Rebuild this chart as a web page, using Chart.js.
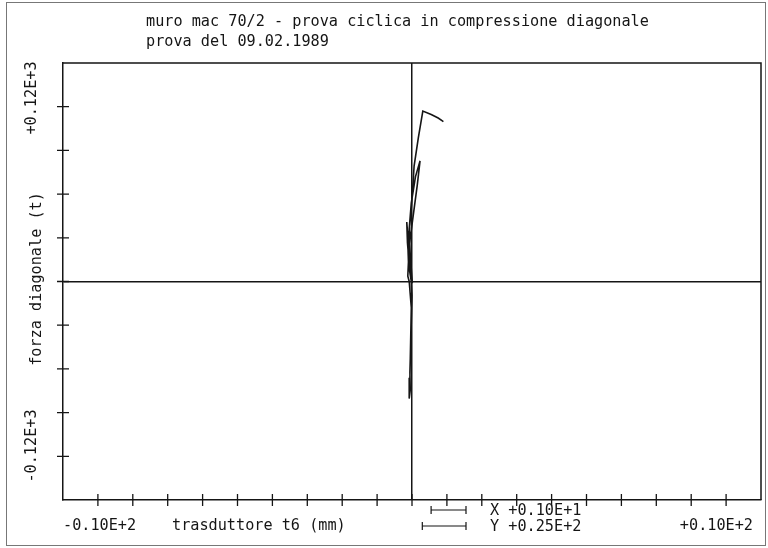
<!DOCTYPE html>
<html><head><meta charset="utf-8">
<script src="https://cdn.jsdelivr.net/npm/chart.js@4.4.1/dist/chart.umd.min.js"></script>
<style>html,body{margin:0;padding:0;background:#fff}#wrap{width:768px;height:548px;position:relative}</style>
</head><body><div id="wrap"><canvas id="c" width="768" height="548"></canvas></div>
<script>
// ---- data ----
const titleLines = ["muro mac 70/2 - prova ciclica in compressione diagonale", "prova del 09.02.1989"];
const xLabel = "trasduttore t6 (mm)";
const yLabel = "forza diagonale (t)";
const xMinLabel = "-0.10E+2";
const xMaxLabel = "+0.10E+2";
const yMaxLabel = "+0.12E+3";
const yMinLabel = "-0.12E+3";
const xScaleNote = "X +0.10E+1";
const yScaleNote = "Y +0.25E+2";
const xRange = [-10, 10];
const yRange = [-125, 125];
const xStep = 1;
const yStep = 25;
const xBarValue = 1;
const yBarValue = 25;
// displacement (mm) and diagonal force (t), in test order
const disp  = [0, -0.08, -0.13, -0.15, -0.12, -0.06, -0.02, 0.01,
               -0.05, -0.08, -0.02, 0.10, 0.23, 0.15, 0.05, -0.05, -0.10, -0.12, -0.08,
               -0.02, -0.04, -0.06, -0.08, -0.05, -0.06, -0.03, 0.00, -0.02,
               -0.10, -0.12, -0.06, 0.00, 0.06, 0.18, 0.31, 0.55, 0.75, 0.90];
const force = [0, 10, 22, 34, 26, 12, 2, -1,
               15, 30, 45, 60, 69, 55, 40, 25, 12, 3, 0,
               -15, -35, -55, -67, -62, -52, -30, -8, 0,
               10, 22, 33, 47, 66, 82, 97.5, 95.5, 93.5, 91.5];

const points = disp.map((x, i) => ({x: x, y: force[i]}));
const FONT = '15.2px "DejaVu Sans Mono"';
const INK = '#151515';

const decor = {
  id: 'decor',
  afterDraw(chart) {
    const ctx = chart.ctx;
    const a = chart.chartArea;
    const xs = chart.scales.x, ys = chart.scales.y;
    ctx.save();
    // outer page border
    ctx.strokeStyle = '#777'; ctx.lineWidth = 1;
    ctx.strokeRect(6.5, 2.5, 759, 543);
    // top and right frame
    ctx.strokeStyle = INK; ctx.lineWidth = 1.5;
    ctx.beginPath();
    ctx.moveTo(a.left, a.top); ctx.lineTo(a.right, a.top); ctx.lineTo(a.right, a.bottom);
    ctx.stroke();
    // crossing tick marks
    ctx.lineWidth = 1.3;
    ctx.beginPath();
    xs.ticks.forEach(t => {
      if (t.value <= xRange[0] || t.value >= xRange[1]) return;
      const p = xs.getPixelForValue(t.value);
      ctx.moveTo(p, a.bottom - 6); ctx.lineTo(p, a.bottom + 6);
    });
    ys.ticks.forEach(t => {
      if (t.value <= yRange[0] || t.value >= yRange[1]) return;
      const p = ys.getPixelForValue(t.value);
      ctx.moveTo(a.left - 6, p); ctx.lineTo(a.left + 6, p);
    });
    ctx.stroke();
    // scale bars
    const xLen = xs.getPixelForValue(xBarValue) - xs.getPixelForValue(0);
    const yLen = ys.getPixelForValue(0) - ys.getPixelForValue(yBarValue);
    const barRight = 466;
    const drawBar = (len, y) => {
      ctx.beginPath();
      ctx.moveTo(barRight - len, y); ctx.lineTo(barRight, y);
      ctx.moveTo(barRight - len, y - 4); ctx.lineTo(barRight - len, y + 4);
      ctx.moveTo(barRight, y - 4); ctx.lineTo(barRight, y + 4);
      ctx.stroke();
    };
    ctx.lineWidth = 1.2;
    drawBar(xLen, 510);
    drawBar(yLen, 526);
    // texts
    ctx.fillStyle = INK; ctx.font = FONT; ctx.textBaseline = 'middle'; ctx.textAlign = 'left';
    ctx.fillText(titleLines[0], 146, 22);
    ctx.fillText(titleLines[1], 146, 42);
    ctx.fillText(xMinLabel, 63, 526);
    ctx.fillText(xLabel, 172, 526);
    ctx.fillText(xScaleNote, 490, 511);
    ctx.fillText(yScaleNote, 490, 527);
    ctx.textAlign = 'right';
    ctx.fillText(xMaxLabel, 753, 526);
    const vtext = (s, x, y) => {
      ctx.save(); ctx.translate(x, y); ctx.rotate(-Math.PI / 2);
      ctx.textAlign = 'center'; ctx.fillText(s, 0, 0); ctx.restore();
    };
    vtext(yMaxLabel, 32, 98);
    vtext(yMinLabel, 32, 446);
    vtext(yLabel, 37, 279);
    ctx.restore();
  }
};

new Chart(document.getElementById('c'), {
  type: 'scatter',
  data: { datasets: [{
    data: points, showLine: true, borderColor: INK, borderWidth: 1.6,
    pointRadius: 0, pointHoverRadius: 0, tension: 0, fill: false
  }]},
  options: {
    responsive: false, animation: false, devicePixelRatio: 1,
    layout: { padding: { left: 63, right: 7, top: 63, bottom: 48 } },
    plugins: { legend: { display: false }, tooltip: { enabled: false }, title: { display: false } },
    scales: {
      x: { type: 'linear', min: xRange[0], max: xRange[1],
           ticks: { display: false, stepSize: xStep },
           grid: { drawTicks: false, lineWidth: 1.5,
                   color: c => (c.tick && c.tick.value === 0) ? INK : 'rgba(0,0,0,0)' },
           border: { display: true, color: INK, width: 1.5 } },
      y: { type: 'linear', min: yRange[0], max: yRange[1],
           ticks: { display: false, stepSize: yStep },
           grid: { drawTicks: false, lineWidth: 1.5,
                   color: c => (c.tick && c.tick.value === 0) ? INK : 'rgba(0,0,0,0)' },
           border: { display: true, color: INK, width: 1.5 } }
    }
  },
  plugins: [decor]
});
</script></body></html>
